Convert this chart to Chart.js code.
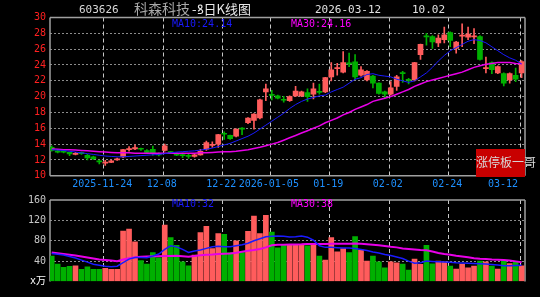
<!DOCTYPE html>
<html>
<head>
<meta charset="utf-8">
<script src="https://cdn.jsdelivr.net/npm/chart.js@4.4.1/dist/chart.umd.min.js"></script>
<style>
  body { margin: 0; background: #000; width: 540px; height: 297px; overflow: hidden; position: relative; }
  canvas { position: absolute; left: 0; }
  #price { top: 0; }
  #vol { top: 190px; }
  .t { position: absolute; white-space: nowrap; line-height: 1; }
  .mono { font-family: "DejaVu Sans Mono", monospace; }
  .cjk { font-family: "Noto Sans CJK SC", sans-serif; }
</style>
</head>
<body>
<canvas id="price" width="540" height="190"></canvas>
<canvas id="vol" width="540" height="107"></canvas>

<span class="t mono" style="left:79px;top:4px;font-size:11px;color:#d8d8d8">603626</span>
<span class="t cjk" style="left:134px;top:1px;font-size:14px;color:#a8a8a8">科森科技</span>
<span class="t cjk" style="left:192px;top:2px;font-size:13px;color:#e8e8e8">-ꝸ日K线图</span>
<span class="t mono" style="left:315px;top:4px;font-size:11px;color:#e0e0e0">2026-03-12</span>
<span class="t mono" style="left:412px;top:4px;font-size:11px;color:#e0e0e0">10.02</span>
<span class="t mono" style="left:172px;top:18.5px;font-size:10px;color:#1a1aff">MA10:24.14</span>
<span class="t mono" style="left:291px;top:18.5px;font-size:10px;color:#ff00ff">MA30:24.16</span>
<span class="t mono" style="left:172px;top:198.7px;font-size:10px;color:#1a1aff">MA10:32</span>
<span class="t mono" style="left:291px;top:198.7px;font-size:10px;color:#ff00ff">MA30:38</span>
<div style="position:absolute;left:476px;top:149px;width:49px;height:27.5px;background:#c80000"></div>
<span class="t cjk" style="left:476px;top:156px;font-size:12px;color:#d8d8d8">涨停板一哥</span>

<script>
const dates = [
  "2025-11-11","2025-11-12","2025-11-13","2025-11-14","2025-11-17","2025-11-18","2025-11-19","2025-11-20","2025-11-21","2025-11-24",
  "2025-11-25","2025-11-26","2025-11-27","2025-11-28","2025-12-01","2025-12-02","2025-12-03","2025-12-04","2025-12-05","2025-12-08",
  "2025-12-09","2025-12-10","2025-12-11","2025-12-12","2025-12-15","2025-12-16","2025-12-17","2025-12-18","2025-12-19","2025-12-22",
  "2025-12-23","2025-12-24","2025-12-25","2025-12-26","2025-12-29","2025-12-30","2025-12-31","2026-01-05","2026-01-06","2026-01-07",
  "2026-01-08","2026-01-09","2026-01-12","2026-01-13","2026-01-14","2026-01-15","2026-01-16","2026-01-19","2026-01-20","2026-01-21",
  "2026-01-22","2026-01-23","2026-01-26","2026-01-27","2026-01-28","2026-01-29","2026-01-30","2026-02-02","2026-02-03","2026-02-04",
  "2026-02-05","2026-02-06","2026-02-09","2026-02-10","2026-02-11","2026-02-12","2026-02-13","2026-02-24","2026-02-25","2026-02-26",
  "2026-02-27","2026-03-02","2026-03-03","2026-03-04","2026-03-05","2026-03-06","2026-03-09","2026-03-10","2026-03-11","2026-03-12"
];

const open = [
  13.6,13.15,13.1,12.95,12.7,12.9,12.6,12.4,11.85,11.6,
  11.7,12.0,12.4,13.3,13.4,13.45,13.2,13.35,12.8,13.2,
  13.05,12.8,12.6,12.5,12.45,12.65,13.35,13.85,14.0,15.35,
  15.1,15.0,16.0,16.7,17.0,17.3,20.6,20.3,20.1,19.65,
  19.5,20.1,20.1,20.5,20.3,20.65,20.6,22.5,23.55,23.1,
  24.25,24.4,22.7,22.1,22.6,21.7,20.6,20.3,21.3,23.0,
  22.15,22.1,25.3,27.65,27.6,26.8,27.2,28.1,26.1,27.65,
  27.5,27.55,27.6,23.55,24.3,23.0,22.9,22.1,22.7,23.0
];
const high = [
  13.8,13.3,13.2,13.0,12.95,13.0,12.7,12.5,12.0,11.95,
  12.0,12.25,13.35,13.7,13.9,13.5,13.3,13.75,12.9,14.0,
  13.1,12.9,12.9,12.8,12.7,13.35,14.4,14.3,15.25,15.55,
  15.15,15.95,16.1,17.35,17.85,19.7,21.6,20.8,20.2,20.05,
  20.1,21.3,20.7,21.0,21.7,21.6,22.45,24.3,24.2,25.7,
  25.5,25.3,23.8,23.3,22.7,21.75,20.7,21.9,22.7,23.2,
  22.3,24.35,26.65,28.0,27.7,27.8,28.8,28.2,27.0,29.2,
  28.8,28.6,27.7,25.0,24.4,23.9,23.0,23.0,23.6,24.55
];
const low = [
  13.1,12.9,12.9,12.55,12.65,12.7,12.0,12.05,11.5,11.3,
  11.65,11.95,12.3,13.1,13.3,13.2,12.9,12.6,12.5,13.1,
  12.8,12.55,12.3,12.2,12.35,12.6,13.2,13.6,13.6,14.6,
  14.6,14.9,15.2,16.6,15.9,17.2,19.5,19.6,19.7,19.3,
  19.4,20.0,20.0,19.4,19.7,20.3,20.5,22.0,22.7,23.0,
  23.8,22.2,22.6,22.0,21.1,20.3,19.8,20.2,20.8,21.8,
  21.6,22.0,24.7,26.5,26.1,26.3,26.8,26.3,25.5,26.3,
  27.2,26.7,24.6,23.0,22.9,22.9,21.35,21.7,21.9,22.4
];
const close = [
  13.2,13.0,13.0,12.75,12.85,12.8,12.25,12.15,11.75,11.7,
  11.9,12.15,13.3,13.4,13.55,13.35,12.95,12.85,12.65,13.8,
  12.85,12.6,12.55,12.45,12.65,13.1,14.2,13.95,15.2,15.25,
  14.7,15.9,15.9,17.3,17.8,19.6,21.0,20.15,19.8,19.55,
  20.0,20.7,20.6,20.0,21.0,20.55,22.4,23.4,23.65,24.3,
  24.15,22.5,23.4,23.2,21.7,20.4,20.3,21.1,22.5,22.9,
  22.05,24.3,26.6,27.55,26.9,27.4,27.8,27.1,26.9,27.75,
  27.9,27.65,24.7,23.65,23.4,23.8,21.7,22.9,22.2,24.42
];
const ma10 = [
  13.3,13.25,13.2,13.1,13.0,12.9,12.8,12.7,12.6,12.5,
  12.45,12.4,12.4,12.45,12.5,12.55,12.6,12.65,12.7,12.8,
  12.9,13.0,13.05,13.1,13.15,13.25,13.35,13.5,13.7,13.9,
  14.1,14.4,14.7,15.0,15.4,15.9,16.4,16.9,17.4,17.9,
  18.5,19.0,19.4,19.7,19.9,20.1,20.2,20.6,20.9,21.2,
  21.7,22.2,22.4,22.8,22.9,22.7,22.6,22.5,22.2,22.0,
  21.8,22.0,22.5,23.0,23.7,24.5,25.2,25.8,26.2,26.6,
  27.0,27.2,27.1,26.8,26.3,25.8,25.3,24.9,24.6,24.14
];
const ma30 = [
  13.4,13.35,13.3,13.3,13.25,13.2,13.15,13.1,13.05,13.0,
  12.95,12.9,12.9,12.9,12.85,12.85,12.85,12.85,12.85,12.85,
  12.85,12.85,12.85,12.85,12.85,12.9,12.9,12.95,13.0,13.05,
  13.05,13.1,13.2,13.3,13.45,13.6,13.8,14.0,14.2,14.5,
  14.8,15.1,15.4,15.7,16.0,16.3,16.7,17.0,17.3,17.7,
  18.0,18.4,18.7,19.0,19.4,19.6,19.8,20.0,20.3,20.6,
  20.9,21.3,21.6,21.9,22.1,22.3,22.5,22.7,22.9,23.1,
  23.4,23.7,23.9,24.1,24.2,24.3,24.3,24.3,24.2,24.16
];

// volume in 万手
const volume = [
  50,34,28,30,31,24,29,24,24,26,
  24,24,99,103,78,41,34,57,46.5,111,
  86,71,38.7,30.9,51.7,95.9,108.3,64.7,94,92.7,
  56.9,79.7,56.9,98.5,128.5,94,129.8,97.2,66,73.2,
  71.2,72.5,71.2,69.9,71.2,49.8,42,86.2,58.2,64.7,
  56.9,88.1,61.5,40,49.8,38.7,27,38.7,36.7,34,
  22.4,43.9,33.5,71.2,34.8,40,38.7,30.2,24.4,34,
  27,30.2,40,38.7,30.2,24.4,41.3,35.4,38.7,30.9
];
const volMa10 = [
  55,53.5,52,49,46,42,38,34,32,30,
  29,30,37,44,47,47,46.5,50,54,63,
  70,68,63,57,60,62,65,68,69,68,
  68,70,72,75,80,84,88,89,89.5,89,
  87.5,88,89.4,87,81,70,67,67,66.5,66,
  66,65,63,61,58,56,53,51,48,45,
  40,36,37,40,39.5,39,38.5,38,37,36.5,
  36,35.5,35,34.5,33.5,32.5,31,31,31.5,32
];
const volMa30 = [
  57,55.5,54,52.5,51,49,47,45,43,42,
  41,40,43,45.5,47.5,48.5,49,49.5,49.8,50,
  50.2,50.4,49.5,48.5,50,51.5,52.5,53,54,54.5,
  55,56.5,58.5,60.5,62,64,67,71,72,72.3,
  72.5,72.8,73,73.5,73.8,73.8,73.8,74,74,74.2,
  74.3,74.5,74,73,72,71,69.5,68,67,65,
  64,63,62,61.5,59,56,54,52.5,50.5,49,
  47.5,45.5,44.5,44,43.2,42.8,42,41,39.5,38
];

const tickDates = ["2025-11-24","2025-12-08","2025-12-22","2026-01-05","2026-01-19","2026-02-02","2026-02-24","2026-03-12"];
const tickLabels = ["2025-11-24","12-08","12-22","2026-01-05","01-19","02-02","02-24","03-12"];

const UP = "#ff5c5c";
const DOWN = "#00b000";
const colors = close.map((c, i) => c >= open[i] ? UP : DOWN);
const monoFont = { family: "DejaVu Sans Mono", size: 10 };

// dashed date lines + gray frame
function framePlugin(sides) {
  return {
    id: "frame",
    beforeDatasetsDraw(chart) {
      const { ctx, chartArea: a, scales: { x } } = chart;
      ctx.save();
      ctx.strokeStyle = "#c8c8c8";
      ctx.lineWidth = 1;
      ctx.setLineDash([4, 3]);
      tickDates.forEach(d => {
        const px = Math.round(x.getPixelForValue(dates.indexOf(d))) - 2 + 0.5;
        ctx.beginPath();
        ctx.moveTo(px, a.top);
        ctx.lineTo(px, a.bottom);
        ctx.stroke();
      });
      ctx.setLineDash([]);
      ctx.strokeStyle = "#a0a0a0";
      ctx.lineWidth = 1.5;
      ctx.beginPath();
      ctx.moveTo(a.left, a.top); ctx.lineTo(a.right, a.top);
      ctx.moveTo(a.left, a.top); ctx.lineTo(a.left, a.bottom);
      ctx.moveTo(a.right, a.top); ctx.lineTo(a.right, a.bottom);
      if (sides.bottom) { ctx.moveTo(a.left, a.bottom); ctx.lineTo(a.right, a.bottom); }
      ctx.stroke();
      ctx.restore();
    }
  };
}

const dateLabels = {
  id: "dateLabels",
  afterDraw(chart) {
    const { ctx, chartArea: a, scales: { x } } = chart;
    ctx.save();
    ctx.font = "10px 'DejaVu Sans Mono'";
    ctx.fillStyle = "#1e90ff";
    ctx.textAlign = "center";
    ctx.textBaseline = "middle";
    tickDates.forEach((d, k) => {
      const w = ctx.measureText(tickLabels[k]).width;
      let px = x.getPixelForValue(dates.indexOf(d)) - 3;
      px = Math.min(px, a.right - 7 - w / 2);
      ctx.fillText(tickLabels[k], px, a.bottom + 8.5);
    });
    ctx.restore();
  }
};

const xScale = { type: "linear", min: -0.29, max: 79.57, offset: false, display: false };
const hideEdge = (lo, hi, col) => c => (c.tick.value === lo || c.tick.value === hi) ? "rgba(0,0,0,0)" : col;

new Chart(document.getElementById("price"), {
  type: "bar",
  data: {
    datasets: [
      { type: "line", data: ma10.map((v, i) => ({ x: i, y: v })), borderColor: "#1a1aff", borderWidth: 1, pointRadius: 0, order: 0 },
      { type: "line", data: ma30.map((v, i) => ({ x: i, y: v })), borderColor: "#e800e8", borderWidth: 1.5, pointRadius: 0, order: 0 },
      { data: close.map((c, i) => ({ x: i, y: [Math.min(open[i], c), Math.max(open[i], c)] })),
        backgroundColor: colors, barThickness: 5, grouped: false, minBarLength: 1, order: 1 },
      { data: close.map((c, i) => ({ x: i, y: [low[i], high[i]] })),
        backgroundColor: colors, barThickness: 1, grouped: false, order: 2 }
    ]
  },
  options: {
    responsive: false,
    animation: false,
    events: [],
    layout: { padding: { left: 0, right: 15, top: 17.5, bottom: 14.2 } },
    plugins: { legend: { display: false }, tooltip: { enabled: false } },
    scales: {
      x: xScale,
      y: {
        min: 10, max: 30,
        afterFit(s) { s.width = 50; },
        ticks: { stepSize: 2, color: "#ff2020", font: monoFont, padding: 4 },
        grid: { drawTicks: false, color: hideEdge(10, 30, "#8c8c8c") },
        border: { display: false, dash: [2, 2] }
      }
    }
  },
  plugins: [framePlugin({ bottom: true }), dateLabels]
});

new Chart(document.getElementById("vol"), {
  type: "bar",
  data: {
    datasets: [
      { type: "line", data: volMa10.map((v, i) => ({ x: i, y: v })), borderColor: "#1a1aff", borderWidth: 1.5, pointRadius: 0, order: 0 },
      { type: "line", data: volMa30.map((v, i) => ({ x: i, y: v })), borderColor: "#e800e8", borderWidth: 2, pointRadius: 0, order: 0 },
      { data: volume.map((v, i) => ({ x: i, y: v })), backgroundColor: colors, barThickness: 5, grouped: false, order: 1 }
    ]
  },
  options: {
    responsive: false,
    animation: false,
    events: [],
    layout: { padding: { left: 0, right: 15, top: 9.5, bottom: 15.5 } },
    plugins: { legend: { display: false }, tooltip: { enabled: false } },
    scales: {
      x: xScale,
      y: {
        min: 0, max: 160,
        afterFit(s) { s.width = 50; },
        ticks: {
          stepSize: 40, padding: 4,
          font: { family: "DejaVu Sans Mono, Noto Sans CJK SC", size: 10 },
          color: c => c.tick.value === 0 ? "#ffffff" : "#c8c8c8",
          callback: v => v === 0 ? "x万" : v
        },
        grid: { drawTicks: false, color: hideEdge(0, 160, "#8c8c8c") },
        border: { display: false, dash: [2, 2] }
      }
    }
  },
  plugins: [framePlugin({ bottom: false })]
});
</script>
</body>
</html>
